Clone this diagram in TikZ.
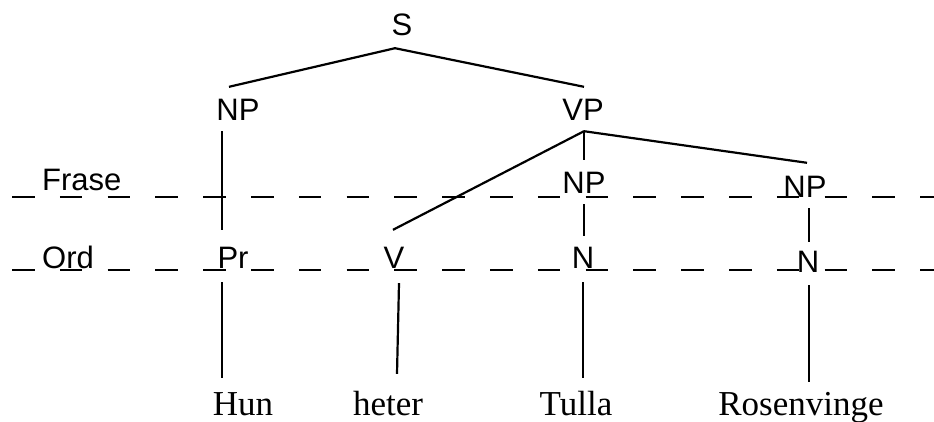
\documentclass[tikz,border=0pt]{standalone}
\usepackage{fontspec}
\setmainfont{Liberation Serif}
\newfontfamily\labelfont{Liberation Sans}
\begin{document}
\begin{tikzpicture}[x=1pt,y=-1pt,
  cat/.style={font=\labelfont\fontsize{31}{35}\selectfont, anchor=base,
    text height=22pt, text depth=0pt, inner xsep=0pt, inner ysep=10pt},
  level/.style={font=\labelfont\fontsize{31}{35}\selectfont, anchor=base west,
    inner sep=0pt},
  word/.style={font=\fontsize{35}{40}\selectfont, anchor=base,
    text height=24pt, text depth=0pt, inner xsep=0pt, inner ysep=14pt},
  branch/.style={line width=2.2pt},
  layer/.style={line width=2.2pt, dash pattern=on 22.5pt off 25.3pt}]
\useasboundingbox (0,0) rectangle (934,421);

% layer boundaries
\draw[layer] (12,197) -- (934,197);
\draw[layer] (12,270) -- (934,270);

% layer names
\node[level] (frase) at (42,190) {Frase};
\node[level] (ord) at (42,268) {Ord};

% phrase structure
\node[cat] (S) at (402,35) {S};
\node[cat] (NPa) at (238,120) {NP};
\node[cat] (VP) at (583,120) {VP};
\node[cat] (NPb) at (584,193) {NP};
\node[cat] (NPc) at (805,197) {NP};
\node[cat] (Pr) at (233,268) {Pr};
\node[cat] (V) at (394,268) {V};
\node[cat] (Na) at (583,268) {N};
\node[cat] (Nb) at (808,272) {N};

% words
\node[word] (hun) at (243,415) {Hun};
\node[word] (heter) at (388,415) {heter};
\node[word] (tulla) at (576,415) {Tulla};
\node[word] (rosenvinge) at (801,415) {Rosenvinge};

% branches
\draw[branch] ([xshift=-7pt,yshift=-3pt]S.south) -- ([xshift=-9pt,yshift=1pt]NPa.north);
\draw[branch] ([xshift=-7pt,yshift=-3pt]S.south) -- ([xshift=1pt,yshift=1pt]VP.north);
\draw[branch] ([xshift=-16pt,yshift=-1pt]NPa.south) -- ([xshift=-11pt,yshift=6pt]Pr.north);
\draw[branch] ([xshift=1pt,yshift=-1pt]VP.south) -- ([xshift=-1pt,yshift=6pt]V.north);
\draw[branch] ([xshift=1pt,yshift=-1pt]VP.south) -- ([yshift=1pt]NPb.north);
\draw[branch] ([xshift=1pt,yshift=-1pt]VP.south) -- ([xshift=2pt,yshift=2pt]NPc.north);
\draw[branch] ([yshift=-1pt]NPb.south) -- ([xshift=1pt]Na.north);
\draw[branch] ([xshift=4pt,yshift=-1pt]NPc.south) -- ([xshift=1pt,yshift=-2pt]Nb.north);
\draw[branch] ([xshift=-11pt,yshift=-4pt]Pr.south) -- ([xshift=-21pt,yshift=-1pt]hun.north);
\draw[branch] ([xshift=5pt,yshift=-5pt]V.south) -- ([xshift=9pt,yshift=3pt]heter.north);
\draw[branch] ([yshift=-4pt]Na.south) -- ([xshift=7pt,yshift=-1pt]tulla.north);
\draw[branch] ([xshift=1pt,yshift=-3pt]Nb.south) -- ([xshift=8pt,yshift=-5pt]rosenvinge.north);
\end{tikzpicture}
\end{document}
